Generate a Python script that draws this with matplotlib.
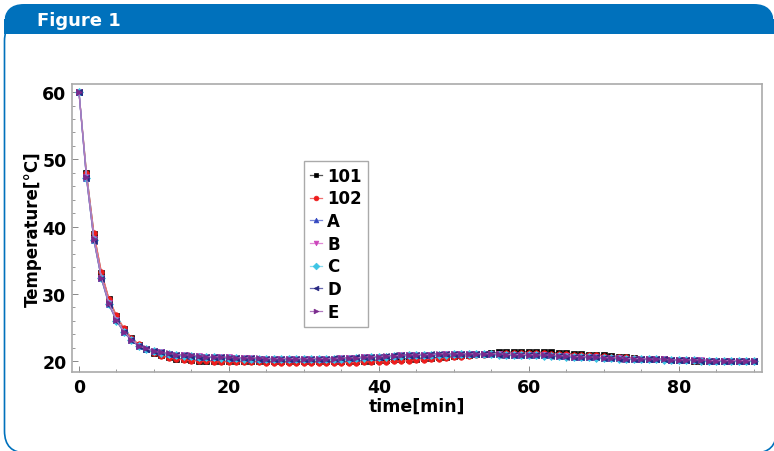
import matplotlib
matplotlib.use("Agg")
import matplotlib.pyplot as plt
from matplotlib.patches import FancyBboxPatch, Rectangle

# time axis, one reading per minute
time_min = list(range(0, 91))

temp_101 = [60.0, 48.0, 38.9, 33.1, 29.2, 26.7, 24.8, 23.4, 22.4, 21.8, 21.2,
            20.9, 20.6, 20.4, 20.3, 20.2, 20.1, 20.1, 20.0, 20.0, 20.0,
            20.0, 20.0, 20.0, 20.0, 20.0, 20.0, 20.0, 20.0, 20.0, 20.0,
            20.0, 20.0, 20.0, 20.0, 20.0, 20.0, 20.0, 20.1, 20.1, 20.2,
            20.2, 20.3, 20.3, 20.4, 20.4, 20.5, 20.5, 20.6, 20.7, 20.8,
            20.9, 21.0, 21.1, 21.1, 21.2, 21.3, 21.3, 21.4, 21.4, 21.4,
            21.4, 21.3, 21.3, 21.2, 21.2, 21.1, 21.1, 21.0, 20.9, 20.9,
            20.8, 20.7, 20.6, 20.5, 20.4, 20.4, 20.3, 20.3, 20.2, 20.2,
            20.2, 20.1, 20.1, 20.1, 20.1, 20.0, 20.0, 20.0, 20.0, 20.0]

temp_102 = [60.0, 47.9, 39.0, 33.2, 29.3, 26.8, 24.9, 23.5, 22.5, 21.8, 21.2,
            20.8, 20.5, 20.3, 20.2, 20.1, 20.0, 20.0, 19.9, 19.9, 19.9,
            19.9, 19.9, 19.9, 19.9, 19.8, 19.8, 19.8, 19.8, 19.8, 19.8,
            19.8, 19.8, 19.8, 19.8, 19.8, 19.8, 19.8, 19.9, 19.9, 19.9,
            19.9, 20.0, 20.0, 20.1, 20.2, 20.2, 20.3, 20.4, 20.5, 20.6,
            20.7, 20.8, 20.9, 21.0, 21.1, 21.1, 21.2, 21.2, 21.2, 21.2,
            21.2, 21.2, 21.1, 21.1, 21.1, 21.0, 21.0, 20.9, 20.9, 20.8,
            20.7, 20.6, 20.6, 20.5, 20.4, 20.4, 20.3, 20.3, 20.2, 20.2,
            20.2, 20.1, 20.1, 20.1, 20.1, 20.0, 20.0, 20.0, 20.0, 20.0]

temp_A = [60.0, 47.3, 38.0, 32.3, 28.5, 26.1, 24.4, 23.1, 22.3, 21.8, 21.5,
          21.3, 21.1, 21.0, 20.9, 20.8, 20.7, 20.7, 20.6, 20.6, 20.5,
          20.5, 20.5, 20.4, 20.4, 20.4, 20.4, 20.4, 20.4, 20.4, 20.4,
          20.4, 20.4, 20.4, 20.4, 20.4, 20.5, 20.5, 20.6, 20.6, 20.7,
          20.8, 20.8, 20.9, 20.9, 21.0, 21.0, 21.0, 21.1, 21.1, 21.1,
          21.1, 21.1, 21.1, 21.1, 21.1, 21.1, 21.0, 21.0, 21.0, 21.0,
          20.9, 20.9, 20.9, 20.8, 20.8, 20.7, 20.7, 20.6, 20.6, 20.5,
          20.5, 20.5, 20.4, 20.4, 20.4, 20.3, 20.3, 20.3, 20.2, 20.2,
          20.2, 20.2, 20.2, 20.1, 20.1, 20.1, 20.1, 20.1, 20.1, 20.1]

temp_B = [60.0, 47.4, 38.1, 32.4, 28.6, 26.2, 24.4, 23.2, 22.3, 21.8, 21.5,
          21.3, 21.1, 21.0, 20.9, 20.8, 20.8, 20.7, 20.6, 20.6, 20.6,
          20.5, 20.5, 20.5, 20.4, 20.4, 20.4, 20.4, 20.4, 20.4, 20.4,
          20.4, 20.4, 20.4, 20.4, 20.5, 20.5, 20.5, 20.6, 20.6, 20.7,
          20.7, 20.8, 20.9, 20.9, 20.9, 21.0, 21.0, 21.0, 21.1, 21.1,
          21.1, 21.1, 21.1, 21.1, 21.1, 21.1, 21.0, 21.0, 21.0, 20.9,
          20.9, 20.9, 20.8, 20.8, 20.8, 20.7, 20.7, 20.6, 20.6, 20.5,
          20.5, 20.5, 20.4, 20.4, 20.4, 20.3, 20.3, 20.3, 20.2, 20.2,
          20.2, 20.2, 20.2, 20.1, 20.1, 20.1, 20.1, 20.1, 20.1, 20.1]

temp_C = [60.0, 47.3, 38.0, 32.3, 28.5, 26.0, 24.3, 23.1, 22.3, 21.8, 21.5,
          21.2, 21.1, 20.9, 20.8, 20.8, 20.7, 20.6, 20.6, 20.5, 20.5,
          20.5, 20.4, 20.4, 20.4, 20.4, 20.4, 20.3, 20.3, 20.3, 20.3,
          20.3, 20.3, 20.4, 20.4, 20.4, 20.4, 20.5, 20.5, 20.6, 20.6,
          20.7, 20.8, 20.8, 20.9, 20.9, 21.0, 21.0, 21.0, 21.0, 21.1,
          21.1, 21.1, 21.1, 21.1, 21.1, 21.0, 21.0, 21.0, 20.9, 20.9,
          20.9, 20.8, 20.8, 20.8, 20.7, 20.7, 20.6, 20.6, 20.5, 20.5,
          20.5, 20.4, 20.4, 20.4, 20.3, 20.3, 20.3, 20.2, 20.2, 20.2,
          20.2, 20.2, 20.1, 20.1, 20.1, 20.1, 20.1, 20.1, 20.1, 20.1]

temp_D = [60.0, 47.2, 37.9, 32.2, 28.4, 26.0, 24.3, 23.1, 22.2, 21.8, 21.5,
          21.3, 21.1, 21.0, 20.9, 20.8, 20.7, 20.7, 20.6, 20.6, 20.5,
          20.5, 20.5, 20.5, 20.4, 20.4, 20.4, 20.4, 20.4, 20.4, 20.4,
          20.4, 20.4, 20.4, 20.5, 20.5, 20.5, 20.6, 20.6, 20.7, 20.7,
          20.8, 20.9, 20.9, 21.0, 21.0, 21.0, 21.1, 21.1, 21.1, 21.1,
          21.1, 21.1, 21.1, 21.1, 21.1, 21.0, 21.0, 21.0, 21.0, 20.9,
          20.9, 20.9, 20.8, 20.8, 20.7, 20.7, 20.7, 20.6, 20.6, 20.5,
          20.5, 20.4, 20.4, 20.4, 20.3, 20.3, 20.3, 20.3, 20.2, 20.2,
          20.2, 20.2, 20.1, 20.1, 20.1, 20.1, 20.1, 20.1, 20.1, 20.1]

temp_E = [60.0, 47.4, 38.1, 32.4, 28.6, 26.1, 24.4, 23.2, 22.3, 21.9, 21.5,
          21.3, 21.2, 21.0, 20.9, 20.9, 20.8, 20.7, 20.7, 20.6, 20.6,
          20.5, 20.5, 20.5, 20.5, 20.4, 20.4, 20.4, 20.4, 20.4, 20.4,
          20.4, 20.4, 20.4, 20.4, 20.5, 20.5, 20.5, 20.6, 20.7, 20.7,
          20.8, 20.8, 20.9, 20.9, 21.0, 21.0, 21.0, 21.1, 21.1, 21.1,
          21.1, 21.1, 21.1, 21.1, 21.1, 21.1, 21.0, 21.0, 21.0, 21.0,
          20.9, 20.9, 20.9, 20.8, 20.8, 20.7, 20.7, 20.6, 20.6, 20.5,
          20.5, 20.5, 20.4, 20.4, 20.4, 20.3, 20.3, 20.3, 20.2, 20.2,
          20.2, 20.2, 20.2, 20.1, 20.1, 20.1, 20.1, 20.1, 20.1, 20.1]

series_labels = ["101", "102", "A", "B", "C", "D", "E"]
series_values = [temp_101, temp_102, temp_A, temp_B, temp_C, temp_D, temp_E]

x_ticks = [0, 20, 40, 60, 80]
y_ticks = [20, 30, 40, 50, 60]

# (marker colour, line colour, marker)
_STYLES = [
    ("#000000", "#555555", "s"),
    ("#ee1c1c", "#f07070", "o"),
    ("#3348c0", "#7a88d8", "^"),
    ("#cc44bb", "#e08ad6", "v"),
    ("#3cc4e4", "#8adcf0", "D"),
    ("#262680", "#6a6ab0", "<"),
    ("#7a2a8c", "#b07ac0", ">"),
]

BLUE = "#0071bc"
W, H = 774, 452

fig = plt.figure(figsize=(W / 100, H / 100), dpi=100)

# frame with the blue header, drawn in pixel units on a full-figure axes
bg = fig.add_axes([0, 0, 1, 1], zorder=0)
bg.set_xlim(0, W)
bg.set_ylim(H, 0)
bg.axis("off")
bg.add_patch(FancyBboxPatch((4.5, 20), 772, 434,
                            boxstyle="round,pad=0,rounding_size=22",
                            facecolor="white", edgecolor=BLUE, linewidth=1.2))
bg.add_patch(FancyBboxPatch((4, 5), W - 4, 30,
                            boxstyle="round,pad=0,rounding_size=20",
                            facecolor=BLUE, edgecolor="none"))
bg.add_patch(Rectangle((4, 20), W, 15, facecolor=BLUE, edgecolor="none"))
bg.text(37, 20.5, "Figure 1", color="white", fontsize=13, fontweight="bold",
        va="center", ha="left")

ax = fig.add_axes([72 / W, 1 - 373 / H, 690 / W, 288 / H], zorder=1)

for label, values, (mcol, lcol, mk) in zip(series_labels, series_values, _STYLES):
    ax.plot(time_min, values, color=lcol, linewidth=0.9, marker=mk,
            markersize=4, markerfacecolor=mcol, markeredgecolor=mcol,
            markeredgewidth=0.5, label=label)

ax.set_xlim(-0.93, 91.07)
ax.set_ylim(18.4, 61.2)
ax.set_xticks(x_ticks)
ax.set_yticks(y_ticks)
ax.set_xticks(range(0, 91, 5), minor=True)
ax.set_yticks(range(20, 61, 2), minor=True)
ax.tick_params(which="both", direction="in", color="#888888")
ax.tick_params(which="major", length=4, width=0.7, pad=4)
ax.tick_params(which="minor", length=2.5, width=0.6)
ax.tick_params(axis="x", which="both", top=False)
ax.tick_params(axis="y", which="both", right=False)
for lab in ax.get_xticklabels():
    lab.set_fontweight("bold")
    lab.set_fontsize(12.5)
for lab in ax.get_yticklabels():
    lab.set_fontweight("bold")
    lab.set_fontsize(12.5)
for s in ax.spines.values():
    s.set_color("#aaaaaa")
    s.set_linewidth(1.2)

ax.set_xlabel("time[min]", fontsize=12.5, fontweight="bold", labelpad=1)
ax.set_ylabel("Temperature[°C]", fontsize=12, fontweight="bold", labelpad=0)

leg = ax.legend(loc="upper left", bbox_to_anchor=(0.336, 0.733), borderaxespad=0,
                fancybox=False, framealpha=1, edgecolor="#aaaaaa",
                prop={"weight": "bold", "size": 12}, handlelength=0.75,
                handletextpad=0.3, labelspacing=0.28, borderpad=0.35,
                markerscale=0.85)
leg.get_frame().set_linewidth(1.0)

fig.savefig("out.png", dpi=100)
